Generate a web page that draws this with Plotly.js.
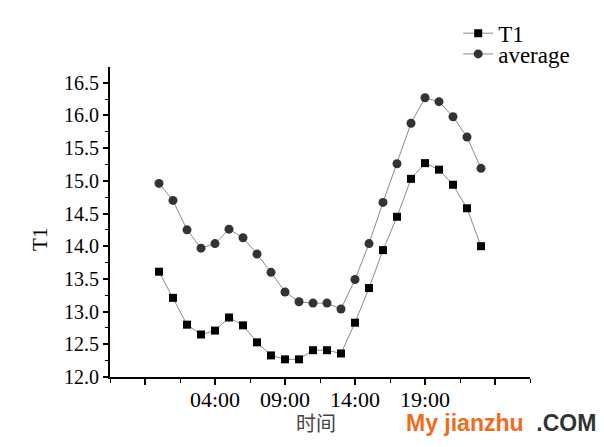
<!DOCTYPE html>
<html>
<head>
<meta charset="utf-8">
<script src="https://cdn.plot.ly/plotly-3.0.1.min.js"></script>
<style>
html,body{margin:0;padding:0;background:#fff;}
#chart{width:604px;height:447px;}
#chart .xtick text, #chart .ytick text { font-family: 'Liberation Serif', 'Times New Roman', serif !important; }
</style>
</head>
<body>
<div id="chart"></div>
<script>
// Data (hour of day)
var hours = [0,1,2,3,4,5,6,7,8,9,10,11,12,13,14,15,16,17,18,19,20,21,22,23];
var t1 = [13.61,13.21,12.80,12.65,12.71,12.91,12.79,12.53,12.33,12.27,12.27,12.41,12.41,12.36,12.83,13.36,13.94,14.45,15.03,15.27,15.17,14.94,14.58,14.00];
var average = [14.96,14.70,14.25,13.97,14.04,14.26,14.13,13.88,13.60,13.30,13.15,13.13,13.13,13.04,13.49,14.04,14.67,15.26,15.88,16.27,16.21,15.98,15.67,15.19];
var xTickVals = [-1,4,9,14,19,24];
var xTickText = ['','04:00','09:00','14:00','19:00',''];
var xMinorVals = [-3.5,1.5,6.5,11.5,16.5,21.5,26.5];

var serif = 'Liberation Serif';

var traces = [
  {x: hours, y: t1, name: 'T1', type: 'scatter', mode: 'lines+markers',
   line: {color: '#8a8a8a', width: 1},
   marker: {symbol: 'square', size: 8, color: '#000'},
   legend: 'legend'},
  {x: hours, y: average, name: 'average', type: 'scatter', mode: 'lines+markers',
   line: {color: '#8a8a8a', width: 1},
   marker: {symbol: 'circle', size: 9, color: '#333'},
   legend: 'legend2'}
];

var layout = {
  width: 604, height: 447,
  margin: {l: 110, r: 74, t: 64, b: 70},
  paper_bgcolor: '#fff', plot_bgcolor: '#fff',
  font: {family: serif, color: '#000'},
  showlegend: true,
  legend: {x: 0.829, y: 1.109, xanchor: 'left', yanchor: 'middle', bgcolor: 'rgba(0,0,0,0)',
           font: {family: serif, size: 23, color: '#000'}},
  legend2: {x: 0.829, y: 1.042, xanchor: 'left', yanchor: 'middle', bgcolor: 'rgba(0,0,0,0)',
           font: {family: serif, size: 23, color: '#000'}},
  xaxis: {
    range: [-3.5, 26.5], showgrid: false, zeroline: false,
    showline: true, linecolor: '#000', linewidth: 2,
    tickmode: 'array', tickvals: xTickVals, ticktext: xTickText,
    ticks: 'outside', ticklen: 6, tickwidth: 2, tickcolor: '#000',
    ticklabelstandoff: -4,
    minor: {tickmode: 'array', tickvals: xMinorVals, ticks: 'outside', ticklen: 4, tickwidth: 1, tickcolor: '#000'},
    tickfont: {family: serif, size: 22, color: '#000'}
  },
  yaxis: {
    range: [12.0, 16.74], showgrid: false, zeroline: false,
    showline: true, linecolor: '#000', linewidth: 2,
    tick0: 12, dtick: 0.5, tickformat: '.1f',
    ticks: 'outside', ticklen: 5, tickwidth: 2, tickcolor: '#000',
    minor: {dtick: 0.25, ticks: 'outside', ticklen: 3, tickwidth: 1, tickcolor: '#000'},
    tickfont: {family: serif, size: 20, color: '#000'}
  },
  annotations: [
    {xref: 'paper', yref: 'paper', x: -0.167, y: 0.445, xanchor: 'center', yanchor: 'middle',
     text: 'T1', textangle: -90,
     showarrow: false, font: {family: serif, size: 21, color: '#000'}},
    {xref: 'paper', yref: 'paper', x: 0.49, y: -0.147, xanchor: 'center', yanchor: 'middle',
     text: '时间', showarrow: false,
     font: {family: 'Noto Sans CJK SC', size: 20, color: '#444'}},
    {xref: 'paper', yref: 'paper', x: 0.93, y: -0.148, xanchor: 'center', yanchor: 'middle',
     text: '<span style="color:#f26a1b">My jianzhu</span>  <span style="color:#333">.COM</span>',
     showarrow: false, font: {family: 'Liberation Sans', size: 23, weight: 'bold'}}
  ]
};

Plotly.newPlot('chart', traces, layout, {displayModeBar: false, staticPlot: true});
</script>
</body>
</html>
